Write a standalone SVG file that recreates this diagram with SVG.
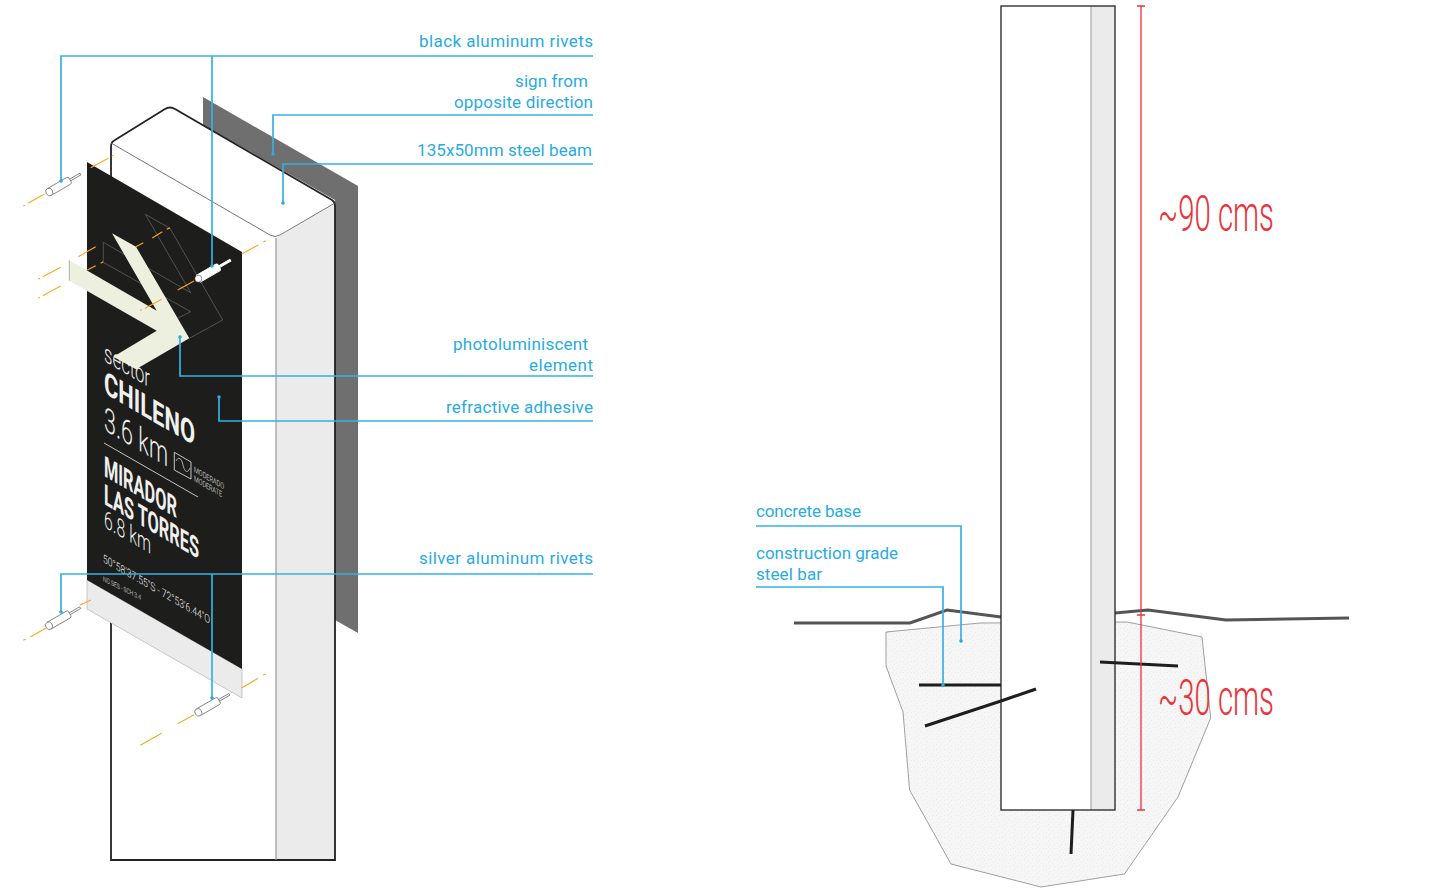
<svg xmlns="http://www.w3.org/2000/svg" width="1434" height="896" viewBox="0 0 1434 896">
<style>
.lb{font-family:"Roboto","Liberation Sans",sans-serif;font-size:17px;fill:#29abe2;font-weight:400}
.ld{fill:none;stroke:#36b1e4;stroke-width:1.700}
.dot{fill:#29abe2}
.or{fill:none;stroke:#f7a823;stroke-width:1.100}
.wire{fill:none;stroke:#77776f;stroke-width:.6}
.sb{font-family:"Roboto","Liberation Sans",sans-serif;font-weight:700;fill:#f0f0ee}
.st{font-family:"Roboto","Liberation Sans",sans-serif;font-weight:300;fill:#f0f0ee}
.red{font-family:"Roboto","Liberation Sans",sans-serif;font-weight:300;font-size:50px;fill:#e8343a}
.bar{stroke:#1d1d1b;stroke-width:3;fill:none}
.rv path,.rv ellipse{fill:#fff;stroke:#777;stroke-width:.8}
</style>
<defs>
<pattern id="stip" width="11" height="11" patternUnits="userSpaceOnUse">
<rect width="11" height="11" fill="#f6f6f6"/>
<g fill="#dcdcdc">
<rect x="1" y="1" width=".7" height=".7"/><rect x="5" y="2" width=".7" height=".7"/><rect x="9" y="1" width=".7" height=".7"/><rect x="3" y="4" width=".7" height=".7"/><rect x="7" y="5" width=".7" height=".7"/><rect x="1" y="7" width=".7" height=".7"/><rect x="5" y="8" width=".7" height=".7"/><rect x="9" y="8" width=".7" height=".7"/><rect x="3" y="10" width=".7" height=".7"/>
</g>
</pattern>
<g id="rivet" class="rv">
<path d="M36 -1H23V1H36Z"/>
<path d="M0 -3.900H22Q24 -3.900 24 -2V2Q24 3.900 22 3.900H0Z"/>
<ellipse cx="0" cy="0" rx="3.400" ry="3.900"/>
</g>
</defs>

<g id="sign-opposite"><polygon points="203,97 358,186 358,633 335,620 335,200 203,125" fill="#6f6f6f"/></g>

<g id="beam">
<path d="M111 860V146Q111 142 115 140L165 109Q170 106 175 109L332 200Q335 202 335 206V860Z" fill="#fff"/>
<path d="M276 238L335 204V860H276Z" fill="#ebebeb"/>
<path d="M111 860V146Q111 142 115 140L165 109Q170 106 175 109L332 200Q335 202 335 206V860Z" fill="none" stroke="#222" stroke-width="1.800"/>
<path d="M111 143L270 235Q275 238 280 235L335 203" fill="none" stroke="#666" stroke-width=".9"/>
<path d="M276 238V860" stroke="#999" stroke-width="1.200"/>
</g>

<g id="sign-panel">
<polygon points="87,580 242,669 242,698 87,609" fill="#ebebeb" stroke="#bbb" stroke-width=".8"/>
<polygon points="87,162 242,252 242,669 87,580" fill="#1d1d1b"/>
<text class="st" font-size="26" textLength="46" lengthAdjust="spacingAndGlyphs" transform="matrix(1,.58,0,1,104,361)">sector</text>
<text class="sb" font-size="32" textLength="91" lengthAdjust="spacingAndGlyphs" transform="matrix(1,.58,0,1,104,393)">CHILENO</text>
<text class="st" font-size="34" textLength="64" lengthAdjust="spacingAndGlyphs" transform="matrix(1,.58,0,1,104,430)">3.6 km</text>
<path d="M104 443L198 497" stroke="#eee" stroke-width=".8"/>
<path d="M174.300 452.300L191 462V479L174.300 470Z" fill="none" stroke="#eee" stroke-width=".8"/>
<path d="M176 461C179 455 182 460 183 465S187 475 190 468" fill="none" stroke="#eee" stroke-width=".7"/>
<text class="st" font-size="8" textLength="30" lengthAdjust="spacingAndGlyphs" transform="matrix(1,.58,0,1,194,472)">MODERADO</text>
<text class="st" font-size="8" textLength="28" lengthAdjust="spacingAndGlyphs" transform="matrix(1,.58,0,1,194,481)">MODERATE</text>
<text class="sb" font-size="29" textLength="73" lengthAdjust="spacingAndGlyphs" transform="matrix(1,.58,0,1,104,476)">MIRADOR</text>
<text class="sb" font-size="29" textLength="95" lengthAdjust="spacingAndGlyphs" transform="matrix(1,.58,0,1,104,504)">LAS TORRES</text>
<text class="st" font-size="25" textLength="47" lengthAdjust="spacingAndGlyphs" transform="matrix(1,.58,0,1,104,527)">6.8 km</text>
<text class="st" font-size="11.500" textLength="107" lengthAdjust="spacingAndGlyphs" transform="matrix(1,.58,0,1,103,562)">50°58'37.55"S - 72°53'6.44"O</text>
<text class="st" font-size="7" textLength="38" lengthAdjust="spacingAndGlyphs" transform="matrix(1,.5,0,1,103,581)">NG SES - SCH 3.4</text>
</g>

<g id="arrow-element">
<path class="wire" d="M145.300 214.300L170 228.300L222.700 320L189.300 338.300M145.300 214.300L190.700 292.700M103.300 242.300L190.700 292.700M103.300 242.300V262.300L190.700 311.700L178 318"/>
<polygon points="69.300,260.300 156.700,310.700 112,233.300 136,246.700 189.300,338.300 136,369.300 113.300,356.700 156.700,330.700 69.300,280.700" fill="#eef0df"/>
<path d="M69.300 260.300V280.700" stroke="#999" stroke-width=".8"/>
</g>

<g id="axis-lines">
<path class="or" d="M90.700 167.700L108.300 158.300M111.700 156L113.700 155.300M23.300 206L25 205M28 203.300L44 194.300M38.300 279.300L40 278.300M42.700 276.700L60.700 267.300M38.300 298.300L40 297.300M42.700 295.700L60.700 286M78.300 256.700L95.700 246.700M87.300 270L95.700 265.700M100.700 263.300L103.300 261.700M136 246.700L143.300 242.700M152.300 238L162.300 231.700M166.700 229.300L170 227.700M140 310.700L141.700 309.300M145 308.300L161.700 299.300M177.700 290L194 281M241.700 254L258.300 245M263.300 242L266 240.700"/>
<path class="or" d="M23.300 640.300L25.700 639M30.300 637L46 628M80 605L91 600M177.700 723.700L194 714.700M140.300 745.300L161.700 733.300M241.700 688L258 678.300M263 675L266 674"/>
</g>

<g id="rivet-a"><use href="#rivet" transform="translate(49.300,192) rotate(-30)"/></g>
<g id="rivet-b"><path d="M0 -3.900H22Q24 -3.900 24 -2V2Q24 3.900 22 3.900H0Z M23 -1H37V1H23Z" fill="#fff" stroke="#fff" transform="translate(198.300,278.700) rotate(-30)"/><circle cx="198.300" cy="278.700" r="3.500" fill="#fff" stroke="#1d1d1b" stroke-width=".5"/></g>
<g id="rivet-c"><use href="#rivet" transform="translate(49,625.700) rotate(-30)"/></g>
<g id="rivet-d"><use href="#rivet" transform="translate(198.300,712.300) rotate(-30)"/></g>

<g id="concrete"><polygon points="886,632 980,623 1127,622 1202,637 1210.700,718 1178,797 1124.400,874 1041,887 951,864 909.600,790 903,712 886,666" fill="url(#stip)" stroke="#888" stroke-width=".8"/></g>
<g id="ground" fill="none" stroke="#555" stroke-width="3">
<path d="M794 623H910L947 610L1001 617"/>
<path d="M1115 613L1148 610L1226 620L1349 618"/>
</g>
<g id="bars-behind">
<path class="bar" d="M919 685H1001M925 726L1001 701"/>
<path class="bar" d="M1073 810L1071 854"/>
</g>
<g id="column">
<rect x="1001" y="6" width="114" height="804" fill="#fff"/>
<rect x="1091" y="6" width="24" height="804" fill="#ebebeb"/>
<path d="M1091 6V810" stroke="#aaa" stroke-width="1.200"/>
<rect x="1001" y="6" width="114" height="804" fill="none" stroke="#222" stroke-width="1.300"/>
</g>
<g id="bars-front"><path class="bar" d="M1001 701L1036 689M1100 662L1178 666"/></g>

<g id="dimensions">
<path d="M1141 6V810M1137 6H1145M1137 615H1145M1137 810H1145" fill="none" stroke="#e8343a" stroke-width="1.300"/>
<text class="red" x="1158" y="231" textLength="116" lengthAdjust="spacingAndGlyphs">~90 cms</text>
<text class="red" x="1158" y="715" textLength="116" lengthAdjust="spacingAndGlyphs">~30 cms</text>
</g>

<g id="connectors">
<path class="ld" d="M593 56H61V181M212 56V266"/>
<path class="ld" d="M593 115H273V154"/>
<path class="ld" d="M593 164H283V203"/>
<path class="ld" d="M593 376H180V337"/>
<path class="ld" d="M593 421H219V397"/>
<path class="ld" d="M593 574H61V612M212 574V698"/>
<path class="ld" d="M756 526H961V641" stroke-width="1.200"/>
<path class="ld" d="M756 587H943V685" stroke-width="1.200"/>
<g class="dot">
<circle cx="61" cy="181" r="1.800"/><circle cx="212" cy="266" r="1.800"/><circle cx="273" cy="154" r="1.800"/><circle cx="283" cy="203" r="1.800"/><circle cx="180" cy="337" r="1.800"/><circle cx="219" cy="397" r="1.800"/><circle cx="61" cy="612" r="1.800"/><circle cx="212" cy="698" r="1.800"/><circle cx="961" cy="641" r="1.800"/><circle cx="943" cy="685" r="1.800"/>
</g>
</g>

<g id="labels">
<text class="lb" x="419" y="47" textLength="174">black aluminum rivets</text>
<text class="lb" x="515" y="87" textLength="73">sign from</text>
<text class="lb" x="454" y="108" textLength="139">opposite direction</text>
<text class="lb" x="417" y="156" textLength="175">135x50mm steel beam</text>
<text class="lb" x="453" y="350" textLength="135">photoluminiscent</text>
<text class="lb" x="529" y="371" textLength="64">element</text>
<text class="lb" x="446" y="413" textLength="147">refractive adhesive</text>
<text class="lb" x="419" y="564" textLength="174">silver aluminum rivets</text>
<text class="lb" x="756" y="517" textLength="105">concrete base</text>
<text class="lb" x="756" y="559" textLength="142">construction grade</text>
<text class="lb" x="756" y="580" textLength="66">steel bar</text>
</g>
</svg>
